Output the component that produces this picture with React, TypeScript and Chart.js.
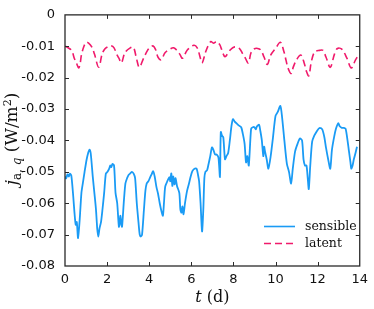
import React, { useEffect, useRef } from "react";
import { Chart, registerables } from "chart.js";

Chart.register(...registerables);

const sensibleDays = [
  0.0, 0.05, 0.12, 0.18, 0.23, 0.3, 0.39, 0.45, 0.51, 0.56, 0.62, 0.7, 0.78, 0.85, 0.93,
  1.03, 1.1, 1.16, 1.22, 1.32, 1.4, 1.47, 1.53, 1.58, 1.64, 1.71, 1.78, 1.86, 1.94,
  2.02, 2.1, 2.15, 2.2, 2.25, 2.33, 2.4, 2.48, 2.56, 2.6, 2.63, 2.68, 2.71, 2.8, 2.87, 2.95,
  3.02, 3.1, 3.18, 3.26, 3.33, 3.41, 3.49, 3.55, 3.6, 3.66, 3.75, 3.82, 3.88, 3.96,
  4.03, 4.1, 4.19, 4.26, 4.34, 4.42, 4.5, 4.58, 4.65, 4.7, 4.76, 4.86, 4.96,
  5.0, 5.05, 5.1, 5.14, 5.2, 5.25, 5.32, 5.43, 5.48, 5.53, 5.58, 5.63, 5.7, 5.8, 5.89, 5.97,
  6.05, 6.15, 6.25, 6.32, 6.37, 6.44, 6.51, 6.57, 6.62, 6.67, 6.75, 6.82, 6.9, 6.98,
  7.05, 7.13, 7.21, 7.29, 7.36, 7.4, 7.46, 7.52, 7.6, 7.67, 7.75, 7.83, 7.91, 7.98,
  8.06, 8.14, 8.25, 8.37, 8.45, 8.53, 8.6, 8.66, 8.73, 8.84, 8.92,
  9.0, 9.06, 9.12, 9.22, 9.28, 9.35, 9.42, 9.46, 9.5, 9.58, 9.66, 9.77, 9.88,
  10.0, 10.1, 10.23, 10.31, 10.42, 10.54, 10.64, 10.74, 10.82, 10.93,
  11.05, 11.16, 11.26, 11.33, 11.4, 11.47, 11.53, 11.58, 11.65, 11.74, 11.84, 11.94,
  12.02, 12.1, 12.22, 12.32, 12.4, 12.5, 12.6, 12.68, 12.78, 12.87, 12.98,
  13.05, 13.15, 13.25, 13.33, 13.42, 13.49, 13.56, 13.6, 13.66, 13.72, 13.8, 13.87,
];
const sensibleValues = [
  -0.0515, -0.0521, -0.0508, -0.0515, -0.0506, -0.0512, -0.0577, -0.063, -0.0669, -0.066, -0.0711, -0.065, -0.0567, -0.0535, -0.05,
  -0.046, -0.044, -0.0429, -0.044, -0.0516, -0.057, -0.0619, -0.068, -0.0706, -0.068, -0.066, -0.062, -0.0567, -0.0506,
  -0.05, -0.049, -0.048, -0.0485, -0.0475, -0.048, -0.0567, -0.06, -0.0675, -0.066, -0.064, -0.067, -0.0675, -0.059, -0.0537, -0.052,
  -0.051, -0.0505, -0.05, -0.0506, -0.052, -0.06, -0.066, -0.07, -0.0706, -0.07, -0.062, -0.056, -0.0537, -0.053,
  -0.052, -0.051, -0.0498, -0.0515, -0.0547, -0.057, -0.06, -0.0625, -0.064, -0.06, -0.0547, -0.053, -0.0517,
  -0.053, -0.0505, -0.0545, -0.0515, -0.054, -0.052, -0.0545, -0.0567, -0.062, -0.063, -0.061, -0.0635, -0.06, -0.056, -0.0537, -0.0515,
  -0.0498, -0.049, -0.049, -0.051, -0.053, -0.06, -0.069, -0.062, -0.052, -0.05, -0.0495, -0.0475, -0.045, -0.0422,
  -0.043, -0.0445, -0.0445, -0.0455, -0.0516, -0.0373, -0.0385, -0.039, -0.046, -0.045, -0.044, -0.04, -0.0353, -0.0332,
  -0.034, -0.0345, -0.0352, -0.0358, -0.038, -0.041, -0.047, -0.045, -0.048, -0.0363, -0.0358,
  -0.0358, -0.0365, -0.0355, -0.035, -0.037, -0.04, -0.045, -0.042, -0.0435, -0.046, -0.049, -0.045, -0.039,
  -0.0322, -0.031, -0.029, -0.0325, -0.04, -0.0475, -0.05, -0.0537, -0.049, -0.0435,
  -0.041, -0.0394, -0.04, -0.046, -0.048, -0.048, -0.052, -0.0555, -0.048, -0.0404, -0.0385, -0.0373,
  -0.0365, -0.036, -0.0365, -0.039, -0.0424, -0.046, -0.049, -0.043, -0.039, -0.0363, -0.0345,
  -0.0355, -0.036, -0.036, -0.0363, -0.04, -0.0435, -0.047, -0.049, -0.048, -0.046, -0.044, -0.042,
];

const latentDays = [
  0.0, 0.1, 0.31, 0.45, 0.54, 0.65, 0.72, 0.78, 0.9, 1.01, 1.12, 1.27, 1.4, 1.6, 1.77, 1.9,
  2.02, 2.18, 2.33, 2.45, 2.56, 2.68, 2.85, 3.1, 3.25, 3.4, 3.53, 3.72, 3.92,
  4.05, 4.19, 4.3, 4.42, 4.57, 4.76, 5.04, 5.15, 5.27, 5.45, 5.58, 5.81,
  6.12, 6.28, 6.4, 6.51, 6.67, 6.8, 6.93, 7.05, 7.21, 7.35, 7.44, 7.6, 7.83,
  8.06, 8.3, 8.45, 8.53, 8.71, 8.84, 9.0, 9.15, 9.3, 9.46, 9.61, 9.77,
  10.0, 10.23, 10.39, 10.5, 10.59, 10.74, 10.85, 11.0, 11.2, 11.36, 11.47, 11.58, 11.7, 11.86,
  12.09, 12.25, 12.4, 12.6, 12.8, 12.94, 13.16, 13.39, 13.6, 13.8, 13.88,
];
const latentValues = [
  -0.01, -0.0103, -0.0113, -0.014, -0.0153, -0.0169, -0.0155, -0.0128, -0.01, -0.0087, -0.009, -0.0102, -0.0125, -0.0167, -0.0123, -0.0108,
  -0.0102, -0.0098, -0.0105, -0.0125, -0.0138, -0.0153, -0.012, -0.0105, -0.0103, -0.014, -0.0167, -0.014, -0.0113,
  -0.0103, -0.0099, -0.011, -0.0135, -0.0143, -0.012, -0.0107, -0.0105, -0.011, -0.0125, -0.0138, -0.0112,
  -0.0097, -0.0105, -0.013, -0.0153, -0.012, -0.0098, -0.0085, -0.009, -0.0085, -0.0095, -0.011, -0.0133, -0.0113,
  -0.0102, -0.0108, -0.0125, -0.0133, -0.0153, -0.012, -0.0108, -0.0107, -0.0112, -0.0135, -0.0158, -0.0128,
  -0.0107, -0.0087, -0.0115, -0.0145, -0.0169, -0.0187, -0.0165, -0.0143, -0.0128, -0.0153, -0.018, -0.0194, -0.015, -0.0118,
  -0.0113, -0.0113, -0.0135, -0.0167, -0.0125, -0.0107, -0.011, -0.0138, -0.0169, -0.0143, -0.0135,
];

const seriesNames = ["sensible", "latent"];
const xTickStep = 2;
const yTickStep = 0.01;

const BLUE = "#1a9bf5";
const PINK = "#f01a6b";

const framePlugin = {
  id: "framePlugin",
  afterDraw(chart: any) {
    const { ctx, chartArea, scales } = chart;
    const { left, right, top, bottom } = chartArea;
    const xs = scales.x;
    const ys = scales.y;
    ctx.save();
    // frame
    ctx.strokeStyle = "#2a2a2a";
    ctx.lineWidth = 1.3;
    ctx.strokeRect(left, top, right - left, bottom - top);
    // inward ticks on all sides
    const tl = 4;
    ctx.lineWidth = 1;
    ctx.beginPath();
    xs.ticks.forEach((t: any) => {
      const px = Math.round(xs.getPixelForValue(t.value)) + 0.5;
      if (px <= left + 1 || px >= right - 1) return;
      ctx.moveTo(px, bottom);
      ctx.lineTo(px, bottom - tl);
      ctx.moveTo(px, top);
      ctx.lineTo(px, top + tl);
    });
    ys.ticks.forEach((t: any) => {
      const py = Math.round(ys.getPixelForValue(t.value)) + 0.5;
      if (py <= top + 1 || py >= bottom - 1) return;
      ctx.moveTo(left, py);
      ctx.lineTo(left + tl, py);
      ctx.moveTo(right, py);
      ctx.lineTo(right - tl, py);
    });
    ctx.stroke();

    // legend
    const lx0 = 264;
    const lx1 = 295;
    const rows = [
      { y: 226.5, color: BLUE, dash: [] as number[], width: 1.6, label: seriesNames[0] },
      { y: 243.5, color: PINK, dash: [7, 4], width: 1.6, label: seriesNames[1] },
    ];
    rows.forEach((r) => {
      ctx.beginPath();
      ctx.strokeStyle = r.color;
      ctx.lineWidth = r.width;
      ctx.setLineDash(r.dash);
      ctx.moveTo(lx0, r.y);
      ctx.lineTo(lx1, r.y);
      ctx.stroke();
      ctx.setLineDash([]);
      ctx.fillStyle = "#111";
      ctx.font = '12.5px "DejaVu Serif"';
      ctx.textBaseline = "middle";
      ctx.textAlign = "left";
      ctx.fillText(r.label, 305, r.y);
    });

    // x title
    ctx.fillStyle = "#111";
    ctx.textBaseline = "alphabetic";
    ctx.textAlign = "left";
    const xParts = [
      { t: "t", f: 'italic 16px "DejaVu Serif"' },
      { t: " (d)", f: '16px "DejaVu Serif"' },
    ];
    let wx = 0;
    xParts.forEach((p) => {
      ctx.font = p.f;
      wx += ctx.measureText(p.t).width;
    });
    let cx = (left + right) / 2 - wx / 2;
    xParts.forEach((p) => {
      ctx.font = p.f;
      ctx.fillText(p.t, cx, 302);
      cx += ctx.measureText(p.t).width;
    });

    // y title (rotated)
    const yParts = [
      { t: "j", f: 'italic 17px "DejaVu Serif"', dy: 0 },
      { t: "a", f: '12px "DejaVu Serif"', dy: 3.5 },
      { t: ", ", f: '12px "DejaVu Serif"', dy: 3.5 },
      { t: "q", f: 'italic 12px "DejaVu Serif"', dy: 3.5 },
      { t: " (W/m", f: '17px "DejaVu Serif"', dy: 0 },
      { t: "2", f: '11px "DejaVu Serif"', dy: -6.5 },
      { t: ")", f: '17px "DejaVu Serif"', dy: 0 },
    ];
    let wy = 0;
    yParts.forEach((p) => {
      ctx.font = p.f;
      wy += ctx.measureText(p.t).width;
    });
    ctx.translate(17, 139);
    ctx.rotate(-Math.PI / 2);
    let cy = -wy / 2;
    yParts.forEach((p) => {
      ctx.font = p.f;
      ctx.fillText(p.t, cy, p.dy);
      cy += ctx.measureText(p.t).width;
    });
    ctx.restore();
  },
};

export default function App() {
  const ref = useRef<HTMLCanvasElement | null>(null);
  useEffect(() => {
    if (!ref.current) return;
    const sensible = sensibleDays.map((d, i) => ({ x: d, y: sensibleValues[i] }));
    const latent = latentDays.map((d, i) => ({ x: d, y: latentValues[i] }));
    const chart = new Chart(ref.current, {
      type: "line",
      data: {
        datasets: [
          {
            label: seriesNames[0],
            data: sensible,
            borderColor: BLUE,
            borderWidth: 1.8,
            pointRadius: 0,
            tension: 0.25,
            fill: false,
          },
          {
            label: seriesNames[1],
            data: latent,
            borderColor: PINK,
            borderWidth: 1.6,
            borderDash: [7, 4],
            pointRadius: 0,
            tension: 0.35,
            fill: false,
          },
        ],
      },
      options: {
        responsive: false,
        animation: false,
        events: [],
        layout: { padding: { left: 0, right: 8, top: 5, bottom: 0 } },
        plugins: {
          legend: { display: false },
          tooltip: { enabled: false },
        },
        scales: {
          x: {
            type: "linear",
            min: 0,
            max: 14,
            grid: { display: false, drawTicks: false },
            border: { display: false },
            ticks: {
              stepSize: xTickStep,
              padding: 6,
              color: "#111",
              font: { family: "DejaVu Sans", size: 13 },
              maxRotation: 0,
            },
            afterFit: (s: any) => {
              s.height = 43;
            },
          },
          y: {
            type: "linear",
            min: -0.08,
            max: 0,
            grid: { display: false, drawTicks: false },
            border: { display: false },
            ticks: {
              stepSize: yTickStep,
              padding: 10,
              color: "#111",
              font: { family: "DejaVu Sans", size: 13, lineHeight: 0.75 },
              callback: (v: any) => (Math.abs(v) < 1e-9 ? "0" : Number(v).toFixed(2)),
            },
            afterFit: (s: any) => {
              s.width = 65;
            },
          },
        },
      },
      plugins: [framePlugin],
    });
    return () => chart.destroy();
  }, []);
  return (
    <div style={{ position: "absolute", left: 0, top: 0, width: 374, height: 309, background: "#fff" }}>
      <canvas ref={ref} width={374} height={309} style={{ display: "block" }} />
    </div>
  );
}
